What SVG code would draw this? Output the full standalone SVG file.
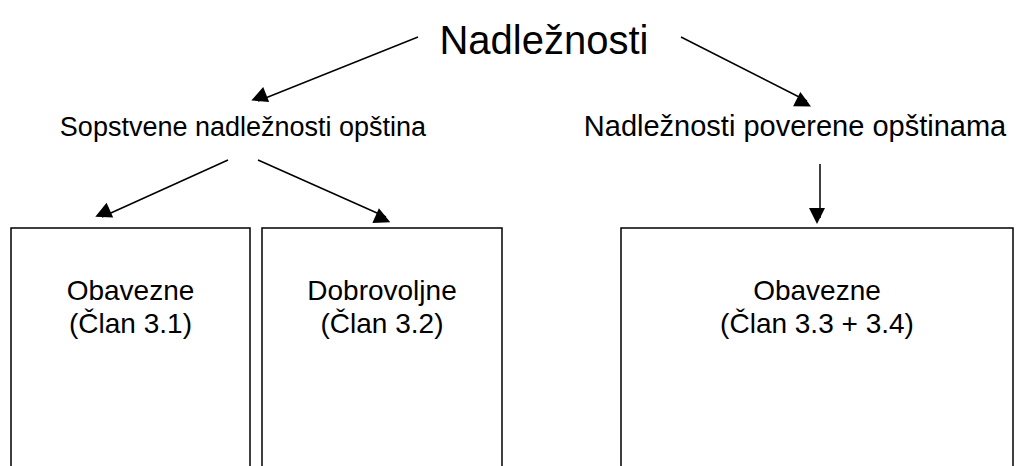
<svg xmlns="http://www.w3.org/2000/svg" width="1026" height="466" viewBox="0 0 1026 466">
<style>
text{font-family:"Liberation Sans",Arial,sans-serif;fill:#000;text-anchor:middle}
.t1{font-size:40px}
.t2{font-size:29px}
.t2s{font-size:27px}
.t3{font-size:28px}
.box{fill:#fff;stroke:#000;stroke-width:1.5}
.conn line{stroke:#000;stroke-width:1.5;marker-end:url(#ah)}
</style>
<defs>
<marker id="ah" viewBox="0 0 10 10" refX="10" refY="5" markerWidth="10" markerHeight="10" markerUnits="userSpaceOnUse" orient="auto" overflow="visible">
<path d="M0,0 L10,5 L0,10 z" fill="#000" transform="scale(1.6)"/>
</marker>
</defs>
<rect width="1026" height="466" fill="#fff"/>
<g id="root"><text class="t1" x="544" y="54">Nadležnosti</text></g>
<g id="sopstvene"><text class="t2s" x="243" y="136">Sopstvene nadležnosti opština</text></g>
<g id="poverene"><text class="t2" x="795" y="136">Nadležnosti poverene opštinama</text></g>
<g id="box1"><rect class="box" x="11" y="228" width="239" height="250"/><text class="t3" x="130.5" y="300">Obavezne</text><text class="t3" x="130.5" y="333">(Član 3.1)</text></g>
<g id="box2"><rect class="box" x="262" y="228" width="240" height="250"/><text class="t3" x="382" y="300">Dobrovoljne</text><text class="t3" x="382" y="333">(Član 3.2)</text></g>
<g id="box3"><rect class="box" x="621" y="228" width="392" height="250"/><text class="t3" x="817" y="300">Obavezne</text><text class="t3" x="817" y="333">(Član 3.3 + 3.4)</text></g>
<g class="conn" id="connectors">
<line x1="418" y1="37" x2="258" y2="101"/>
<line x1="681" y1="37" x2="807" y2="101"/>
<line x1="228" y1="160" x2="102" y2="217"/>
<line x1="258" y1="160" x2="386" y2="217"/>
<line x1="820" y1="164" x2="820" y2="218"/>
</g>
</svg>
